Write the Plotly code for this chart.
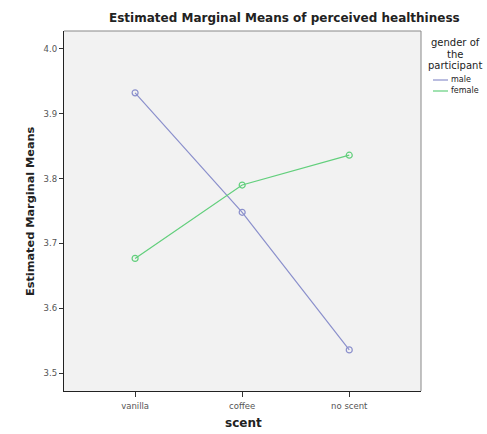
import plotly.graph_objects as go

categories = ["vanilla", "coffee", "no scent"]
male = [3.932, 3.748, 3.536]
female = [3.677, 3.790, 3.836]
y_ticks = [3.5, 3.6, 3.7, 3.8, 3.9, 4.0]
y_ticklabels = ["3.5", "3.6", "3.7", "3.8", "3.9", "4.0"]

male_color = "#8b90cc"
female_color = "#62cf7c"
font = "DejaVu Sans"

fig = go.Figure()
x_idx = list(range(len(categories)))
fig.add_trace(go.Scatter(x=x_idx, y=male, mode="lines+markers", name="male",
                         line=dict(color=male_color, width=1.2),
                         marker=dict(symbol="circle-open", size=6, color=male_color, line=dict(width=1.2)),
                         showlegend=False))
fig.add_trace(go.Scatter(x=x_idx, y=female, mode="lines+markers", name="female",
                         line=dict(color=female_color, width=1.2),
                         marker=dict(symbol="circle-open", size=6, color=female_color, line=dict(width=1.2)),
                         showlegend=False))

fig.update_layout(
    width=487, height=434,
    margin=dict(l=64, r=66, t=31, b=43, autoexpand=False),
    paper_bgcolor="white", plot_bgcolor="#f2f2f2",
    font=dict(family=font, color="#444"),
    showlegend=False,
)
fig.update_xaxes(range=[-0.664, 2.67], tickvals=x_idx, ticktext=categories, automargin=False,
                 ticks="outside", ticklen=5, tickcolor="#333", tickfont=dict(size=8.5, color="#555"),
                 ticklabelstandoff=2,
                 showgrid=False, zeroline=False, showline=True, linecolor="#222", linewidth=1.3)
fig.update_yaxes(range=[3.4727, 4.0273], tickvals=y_ticks, ticktext=y_ticklabels, automargin=False,
                 ticks="outside", ticklen=4, tickcolor="#333", tickfont=dict(size=8.5, color="#555"),
                 showgrid=False, zeroline=False, showline=True, linecolor="#222", linewidth=1.3)

# top / right border
fig.add_shape(type="line", xref="paper", yref="paper", x0=0, x1=1, y0=1, y1=1, line=dict(color="#888", width=1))
fig.add_shape(type="line", xref="paper", yref="paper", x0=1, x1=1, y0=0, y1=1, line=dict(color="#888", width=1))

W = 357.0
H = 360.0
def px(xp):
    return (xp - 64) / W
def py(yp):
    return (391 - yp) / H

fig.add_annotation(text="<b>Estimated Marginal Means of perceived healthiness</b>",
                   xref="paper", yref="paper", x=px(284), y=py(18), yanchor="middle",
                   showarrow=False, font=dict(size=12, color="#222"))
fig.add_annotation(text="<b>scent</b>", xref="paper", yref="paper", x=px(243), y=py(423),
                   yanchor="middle", showarrow=False, font=dict(size=12, color="#222"))
fig.add_annotation(text="<b>Estimated Marginal Means</b>", xref="paper", yref="paper", x=px(30), y=py(211),
                   xanchor="center", yanchor="middle", textangle=-90, showarrow=False,
                   font=dict(size=11.3, color="#222"))

# legend
for txt, yy in [("gender of", 42), ("the", 54), ("participant", 65)]:
    fig.add_annotation(text=txt, xref="paper", yref="paper",
                       x=px(455), y=py(yy), xanchor="center", yanchor="middle",
                       showarrow=False, font=dict(size=10, color="#222"))
for name, col, yy in [("male", male_color, 80), ("female", female_color, 91)]:
    fig.add_shape(type="line", xref="paper", yref="paper", x0=px(433), x1=px(448), y0=py(yy), y1=py(yy),
                  line=dict(color=col, width=1.2))
    fig.add_annotation(text=name, xref="paper", yref="paper", x=px(449), y=py(yy), xanchor="left",
                       yanchor="middle", showarrow=False, font=dict(size=8, color="#222"))

fig.write_html("out.html")
